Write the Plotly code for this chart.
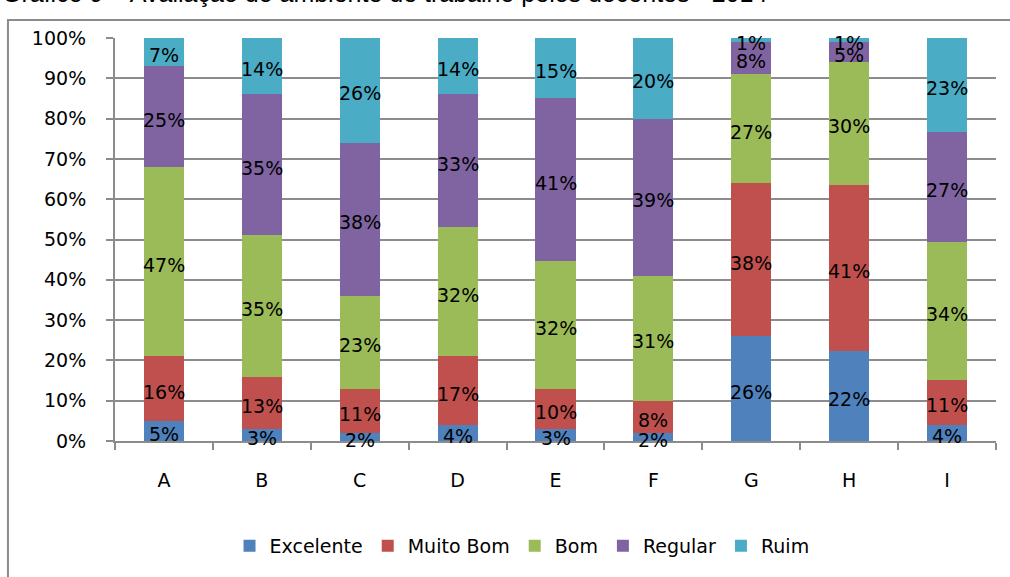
import plotly.graph_objects as go

# Avaliação do ambiente de trabalho pelos docentes - 2014 (percentuais por unidade)
categorias = ["A", "B", "C", "D", "E", "F", "G", "H", "I"]
excelente = [5, 3, 2, 4, 3, 2, 26, 22, 4]
muito_bom = [16, 13, 11, 17, 10, 8, 38, 41, 11]
bom = [47, 35, 23, 32, 32, 31, 27, 30, 34]
regular = [25, 35, 38, 33, 41, 39, 8, 5, 27]
ruim = [7, 14, 26, 14, 15, 20, 1, 1, 23]

y_ticks = [0, 10, 20, 30, 40, 50, 60, 70, 80, 90, 100]
y_tick_labels = [f"{v}%" for v in y_ticks]

series = [
    ("Excelente", excelente, "#4F81BD"),
    ("Muito Bom", muito_bom, "#C0504D"),
    ("Bom", bom, "#9BBB59"),
    ("Regular", regular, "#8064A2"),
    ("Ruim", ruim, "#4BACC6"),
]

FONT = "DejaVu Sans"
GRID = "#8c8c8c"

# total de cada coluna, usado para normalizar a 100%
totais = [sum(col) for col in zip(excelente, muito_bom, bom, regular, ruim)]

fig = go.Figure()
for nome, valores, cor in series:
    fig.add_trace(go.Bar(
        name=nome,
        x=categorias,
        y=valores,
        marker=dict(color=cor, line=dict(width=0)),
        hoverinfo="skip",
    ))

# rótulos de valor centralizados em cada segmento
acumulado = [0.0] * len(categorias)
for nome, valores, cor in series:
    for i, v in enumerate(valores):
        meio = (acumulado[i] + v / 2) / totais[i] * 100
        fig.add_annotation(
            x=categorias[i], y=meio, text=f"{v}%",
            xref="x", yref="y", showarrow=False,
            xanchor="center", yanchor="middle", yshift=-3,
            font=dict(family=FONT, size=19, color="black"),
        )
        acumulado[i] += v

fig.update_layout(
    barmode="stack",
    barnorm="percent",
    bargap=0.59,
    width=1010,
    height=577,
    margin=dict(l=115, r=14, t=38, b=136),
    paper_bgcolor="white",
    plot_bgcolor="white",
    font=dict(family=FONT, size=19, color="black"),
    legend=dict(
        orientation="h",
        x=0.462, xanchor="center",
        y=-0.26, yanchor="middle",
        font=dict(family=FONT, size=19, color="black"),
        traceorder="normal",
        itemclick=False,
    ),
    showlegend=True,
)

fig.update_xaxes(
    type="category",
    categoryorder="array", categoryarray=categorias,
    showline=True, linecolor=GRID, linewidth=2,
    ticks="outside", tickson="boundaries", ticklen=7, tickcolor=GRID, tickwidth=2,
    showgrid=False,
    tickfont=dict(family=FONT, size=19, color="black"),
    ticklabelstandoff=21,
)

fig.update_yaxes(
    range=[0, 100],
    tickvals=y_ticks,
    ticktext=y_tick_labels,
    showline=True, linecolor=GRID, linewidth=2,
    ticks="outside", ticklen=7, tickcolor=GRID, tickwidth=2,
    showgrid=True, gridcolor=GRID, gridwidth=2,
    zeroline=False,
    tickfont=dict(family=FONT, size=19, color="black"),
    ticklabelstandoff=16,
)

# Moldura da área do gráfico (bordas esquerda e superior visíveis)
fig.add_shape(
    type="rect", xref="paper", yref="paper",
    x0=-0.1215, x1=1.2, y0=-0.7, y1=1.0447,
    line=dict(color=GRID, width=2), fillcolor="rgba(0,0,0,0)",
    layer="below",
)

fig.add_annotation(
    text="Gráfico 9 – Avaliação do ambiente de trabalho pelos docentes - 2014",
    xref="paper", yref="paper",
    x=-0.1305, xanchor="left",
    y=1.072, yanchor="bottom",
    showarrow=False,
    font=dict(family="Liberation Sans", size=25, color="black"),
)

fig.write_html("out.html")
